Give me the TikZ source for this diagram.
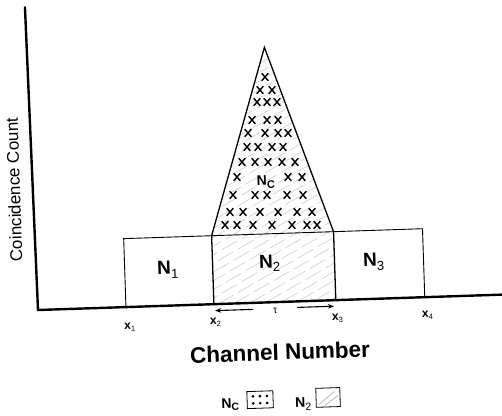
\documentclass[tikz,border=0pt]{standalone}
\usepackage{fontspec}
\setmainfont{Liberation Sans}
\usetikzlibrary{arrows.meta}
\begin{document}
\begin{tikzpicture}[x=1pt,y=1pt]
\useasboundingbox (0,-415) rectangle (502,0);
\tikzset{
  axisline/.style={line width=2.4pt},
  boxline/.style={line width=0.9pt},
  edgeline/.style={line width=1.3pt},
  hatchline/.style={gray!40, line width=0.6pt, dash pattern=on 18pt off 5pt},
  xmark/.style={line width=1.4pt},
  bigN/.style={inner sep=0, font=\bfseries\fontsize{19}{19}\selectfont},
  xlab/.style={inner sep=0, font=\bfseries\fontsize{12}{12}\selectfont},
  tarrow/.style={-{Stealth[length=6pt,width=4.5pt]}, line width=1.1pt}
}
\begin{scope}[shift={(38,-310)}, rotate=1.9, transform shape]
  \coordinate (O) at (0,0);
  \coordinate (Ytop) at (-3,303);
  \coordinate (Xend) at (475,0);
  \coordinate (A1) at (88,0);
  \coordinate (A2) at (176,0);
  \coordinate (A3) at (298,0);
  \coordinate (A4) at (387,0);
  \coordinate (B1) at (88,68.5);
  \coordinate (B2) at (176,68.5);
  \coordinate (B3) at (298,68.5);
  \coordinate (B4) at (387,68.5);
  \coordinate (P) at (235,255);
  % hatching
  \begin{scope}
    \clip (A2) -- (A3) -- (B3) -- (P) -- (B2) -- cycle;
    \foreach \k in {-460,-444,...,300}
      \draw[hatchline] (\k,0) -- ++(28:520);
  \end{scope}
  % boxes
  \draw[boxline] (A1) -- (B1) -- (B2);
  \draw[boxline] (B3) -- (B4) -- (A4);
  \draw[edgeline] (A2) -- (B2);
  \draw[edgeline] (A3) -- (B3);
  \draw[boxline] (B2) -- (B3);
  \draw[edgeline] (B2) -- (P) -- (B3);
  % axes
  \draw[axisline, line cap=round] (Ytop) -- (O) -- (Xend);
  % labels
  \node[bigN] (n1) at (131,36) {N\raisebox{-4pt}{\mdseries\fontsize{13}{13}\selectfont 1}};
  \node[bigN] (n2) at (233,39) {N\raisebox{-4pt}{\mdseries\fontsize{13}{13}\selectfont 2}};
  \node[bigN] (n3) at (337,37) {N\raisebox{-4pt}{\mdseries\fontsize{13}{13}\selectfont 3}};
  \node[inner sep=0, font=\bfseries\fontsize{14}{14}\selectfont] (nc) at (232,120) {N\raisebox{-3pt}{\fontsize{11}{11}\selectfont C}};
  \node[xlab] (x1) at (91,-20) {x\raisebox{-2pt}{\mdseries\fontsize{7.5}{7.5}\selectfont 1}};
  \node[xlab] (x2) at (177,-18) {x\raisebox{-2pt}{\mdseries\fontsize{7.5}{7.5}\selectfont 2}};
  \node[xlab] (x3) at (299,-18) {x\raisebox{-2pt}{\mdseries\fontsize{7.5}{7.5}\selectfont 3}};
  \node[xlab] (x4) at (389,-18) {x\raisebox{-2pt}{\mdseries\fontsize{7.5}{7.5}\selectfont 4}};
  \node[inner sep=0, font=\fontsize{10}{10}\selectfont] (tau) at (237,-9) {τ};
  \coordinate (la0) at (215,-6.5);
  \coordinate (la1) at (177,-6.5);
  \coordinate (ra0) at (259,-6);
  \coordinate (ra1) at (296,-6);
  \draw[tarrow] (la0) -- (la1);
  \draw[tarrow] (ra0) -- (ra1);
  \node[inner sep=0, font=\bfseries\fontsize{22.5}{22.5}\selectfont] (xtitle) at (240.5,-50) {Channel Number};
  \node[inner sep=0, rotate=90, font=\fontsize{17}{17}\selectfont] (ytitle) at (-20,121) {Coincidence Count};
  % legend
  \node[inner sep=0, font=\bfseries\fontsize{14}{14}\selectfont] (lnc) at (189,-101) {N\raisebox{-3pt}{\fontsize{10.5}{10.5}\selectfont C}};
  \node[draw, line width=0.8pt, minimum width=26pt, minimum height=17pt, inner sep=0] (lbc) at (219,-97) {};
  \foreach \dx in {-7,0,7} \foreach \dy in {-3.5,3.5}
    \fill ([shift={(\dx,\dy)}]lbc.center) circle (1.5);
  \node[inner sep=0, font=\bfseries\fontsize{14}{14}\selectfont] (ln2) at (262,-103) {N\raisebox{-3pt}{\mdseries\fontsize{10.5}{10.5}\selectfont 2}};
  \node[draw, line width=0.8pt, minimum width=24pt, minimum height=19pt, inner sep=0] (lb2) at (287,-97) {};
  \draw[gray!70, line width=0.6pt] ([shift={(3,3)}]lb2.south west) -- ([shift={(-6,-4)}]lb2.north east);
  \draw[gray!70, line width=0.6pt] ([shift={(9,2)}]lb2.south west) -- ([shift={(-2,-8)}]lb2.north east);
\end{scope}
% X marks (pixel coordinates)
\begin{scope}[yscale=-1]
  \foreach \x/\y in {265/77, 260/90, 272/90, 257/102, 267/102, 277/102,
     252/120, 267/120, 278/120, 248/133, 265/133, 278/133, 288/133,
     247/147, 258/147, 272/147, 283/147,
     242/162, 255/162, 268/162, 282/162, 295/162,
     237/177, 288/177, 302/177,
     233/195, 255/195, 267/195, 287/195, 303/195,
     230/212, 243/212, 260/212, 278/212, 297/212, 312/212,
     225/225, 237/225, 253/225, 272/225, 292/225, 307/225, 317/225}
    \draw[xmark] ({\x-3.3},{\y-3.8}) -- ({\x+3.3},{\y+3.8}) ({\x-3.3},{\y+3.8}) -- ({\x+3.3},{\y-3.8});
\end{scope}
\end{tikzpicture}
\end{document}
